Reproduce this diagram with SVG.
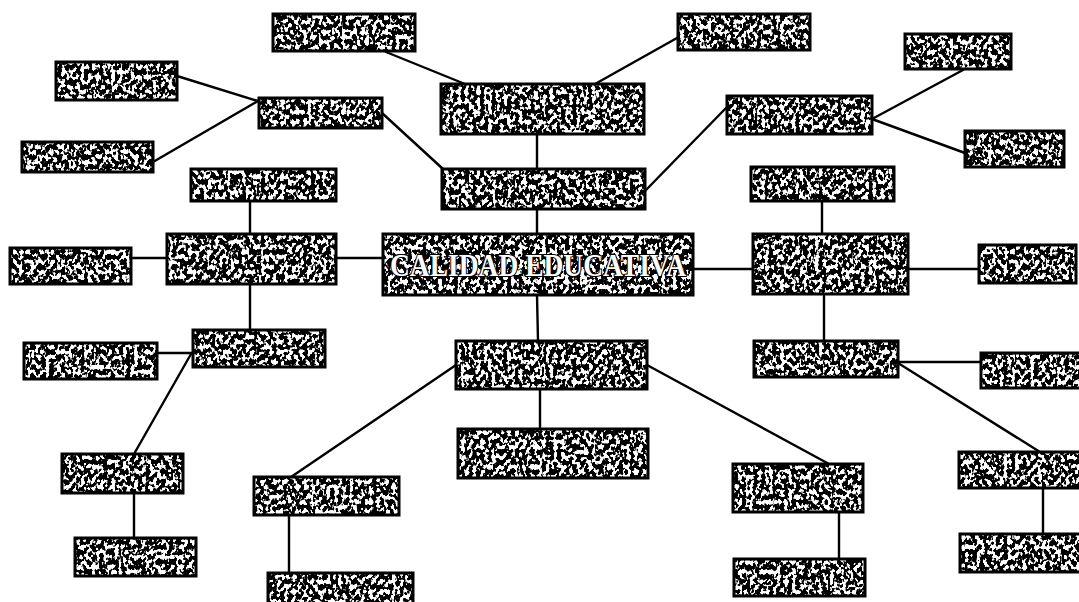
<svg xmlns="http://www.w3.org/2000/svg" width="1079" height="602" viewBox="0 0 1079 602">
<style>
.bg{fill:#ffffff}
.box{fill:#ffffff;stroke:#000;stroke-width:3}
.tex{fill:#000;filter:url(#noise)}
#connectors line{stroke:#000;stroke-width:2.4;stroke-linecap:round}
.title{font-family:"Liberation Serif","DejaVu Serif",serif;font-size:31px;font-weight:bold;fill:#fff;stroke:#000;stroke-width:2.2;paint-order:stroke fill}
</style>
<defs>
<filter id="noise" x="0" y="0" width="100%" height="100%">
<feTurbulence type="fractalNoise" baseFrequency="0.26 0.2" numOctaves="2" seed="11" result="t"/>
<feColorMatrix in="t" type="matrix" values="0 0 0 0 0 0 0 0 0 0 0 0 0 0 0 -16 0 0 0 8.9" result="spots"/>
<feComposite in="spots" in2="SourceGraphic" operator="in"/>
</filter>
</defs>
<rect class="bg" x="0" y="0" width="1079" height="602"/>
<g id="connectors">
<line x1="177" y1="76" x2="258" y2="101"/>
<line x1="153" y1="162" x2="258" y2="101"/>
<line x1="382" y1="113" x2="443" y2="169"/>
<line x1="386" y1="52" x2="465" y2="84"/>
<line x1="677" y1="38" x2="595" y2="84"/>
<line x1="537" y1="134" x2="537" y2="169"/>
<line x1="537" y1="208" x2="537" y2="234"/>
<line x1="537" y1="295" x2="538" y2="341"/>
<line x1="540" y1="389" x2="540" y2="429"/>
<line x1="645" y1="191" x2="727" y2="107"/>
<line x1="872" y1="119" x2="963" y2="70"/>
<line x1="872" y1="119" x2="965" y2="153"/>
<line x1="250" y1="201" x2="250" y2="234"/>
<line x1="131" y1="258" x2="167" y2="258"/>
<line x1="336" y1="258" x2="383" y2="258"/>
<line x1="250" y1="284" x2="250" y2="330"/>
<line x1="157" y1="353" x2="193" y2="353"/>
<line x1="191" y1="354" x2="134" y2="454"/>
<line x1="134" y1="493" x2="134" y2="538"/>
<line x1="456" y1="365" x2="291" y2="477"/>
<line x1="289" y1="515" x2="289" y2="573"/>
<line x1="647" y1="365" x2="829" y2="464"/>
<line x1="839" y1="512" x2="839" y2="559"/>
<line x1="822" y1="201" x2="822" y2="234"/>
<line x1="693" y1="269" x2="753" y2="269"/>
<line x1="908" y1="269" x2="979" y2="269"/>
<line x1="824" y1="294" x2="824" y2="341"/>
<line x1="898" y1="362" x2="981" y2="362"/>
<line x1="898" y1="363" x2="1040" y2="452"/>
<line x1="1043" y1="488" x2="1043" y2="534"/>
</g>
<g id="node-A"><rect class="box" x="273" y="14" width="142" height="37"/><rect class="tex" x="273" y="14" width="142" height="37"/></g>
<g id="node-B"><rect class="box" x="56" y="62" width="121" height="38"/><rect class="tex" x="56" y="62" width="121" height="38"/></g>
<g id="node-C"><rect class="box" x="22" y="142" width="131" height="30"/><rect class="tex" x="22" y="142" width="131" height="30"/></g>
<g id="node-D"><rect class="box" x="259" y="98" width="123" height="30"/><rect class="tex" x="259" y="98" width="123" height="30"/></g>
<g id="node-E"><rect class="box" x="441" y="84" width="203" height="50"/><rect class="tex" x="441" y="84" width="203" height="50"/></g>
<g id="node-F"><rect class="box" x="191" y="169" width="145" height="32"/><rect class="tex" x="191" y="169" width="145" height="32"/></g>
<g id="node-G"><rect class="box" x="442" y="169" width="203" height="40"/><rect class="tex" x="442" y="169" width="203" height="40"/></g>
<g id="node-H"><rect class="box" x="678" y="14" width="132" height="36"/><rect class="tex" x="678" y="14" width="132" height="36"/></g>
<g id="node-I"><rect class="box" x="727" y="96" width="145" height="38"/><rect class="tex" x="727" y="96" width="145" height="38"/></g>
<g id="node-J"><rect class="box" x="905" y="34" width="106" height="35"/><rect class="tex" x="905" y="34" width="106" height="35"/></g>
<g id="node-K"><rect class="box" x="965" y="131" width="99" height="36"/><rect class="tex" x="965" y="131" width="99" height="36"/></g>
<g id="node-L"><rect class="box" x="751" y="167" width="143" height="34"/><rect class="tex" x="751" y="167" width="143" height="34"/></g>
<g id="node-M"><rect class="box" x="167" y="234" width="169" height="50"/><rect class="tex" x="167" y="234" width="169" height="50"/></g>
<g id="node-N"><rect class="box" x="10" y="248" width="121" height="36"/><rect class="tex" x="10" y="248" width="121" height="36"/></g>
<g id="node-center"><rect class="box" x="383" y="234" width="310" height="61"/><rect class="tex" x="383" y="234" width="310" height="61"/><text class="title" x="538" y="276" text-anchor="middle" textLength="296" lengthAdjust="spacingAndGlyphs">CALIDAD EDUCATIVA</text></g>
<g id="node-R"><rect class="box" x="753" y="234" width="155" height="60"/><rect class="tex" x="753" y="234" width="155" height="60"/></g>
<g id="node-S"><rect class="box" x="979" y="245" width="97" height="38"/><rect class="tex" x="979" y="245" width="97" height="38"/></g>
<g id="node-O"><rect class="box" x="193" y="330" width="132" height="37"/><rect class="tex" x="193" y="330" width="132" height="37"/></g>
<g id="node-P"><rect class="box" x="24" y="343" width="133" height="36"/><rect class="tex" x="24" y="343" width="133" height="36"/></g>
<g id="node-Q"><rect class="box" x="456" y="341" width="191" height="48"/><rect class="tex" x="456" y="341" width="191" height="48"/></g>
<g id="node-T"><rect class="box" x="754" y="341" width="144" height="36"/><rect class="tex" x="754" y="341" width="144" height="36"/></g>
<g id="node-U"><rect class="box" x="981" y="353" width="100" height="35"/><rect class="tex" x="981" y="353" width="100" height="35"/></g>
<g id="node-Q2"><rect class="box" x="458" y="429" width="190" height="49"/><rect class="tex" x="458" y="429" width="190" height="49"/></g>
<g id="node-V"><rect class="box" x="62" y="454" width="121" height="39"/><rect class="tex" x="62" y="454" width="121" height="39"/></g>
<g id="node-W"><rect class="box" x="75" y="538" width="121" height="38"/><rect class="tex" x="75" y="538" width="121" height="38"/></g>
<g id="node-X"><rect class="box" x="254" y="477" width="145" height="38"/><rect class="tex" x="254" y="477" width="145" height="38"/></g>
<g id="node-Y"><rect class="box" x="268" y="573" width="145" height="36"/><rect class="tex" x="268" y="573" width="145" height="36"/></g>
<g id="node-Z"><rect class="box" x="733" y="464" width="130" height="48"/><rect class="tex" x="733" y="464" width="130" height="48"/></g>
<g id="node-AA"><rect class="box" x="734" y="559" width="131" height="37"/><rect class="tex" x="734" y="559" width="131" height="37"/></g>
<g id="node-BB"><rect class="box" x="959" y="452" width="122" height="36"/><rect class="tex" x="959" y="452" width="122" height="36"/></g>
<g id="node-CC"><rect class="box" x="960" y="534" width="121" height="38"/><rect class="tex" x="960" y="534" width="121" height="38"/></g>
</svg>
